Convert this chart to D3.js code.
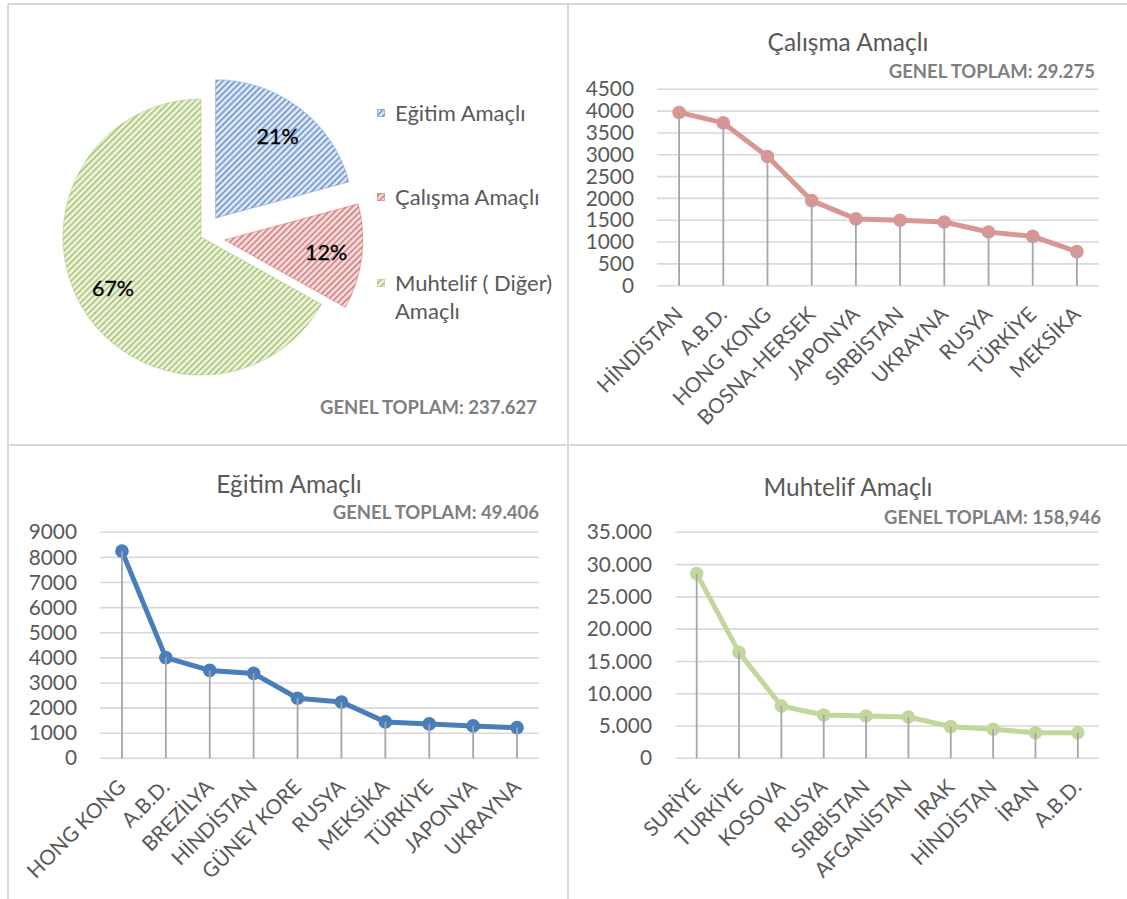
<!DOCTYPE html>
<html>
<head>
<meta charset="utf-8">
<script src="https://cdn.jsdelivr.net/npm/d3@7"></script>
<style>
  body { margin: 0; background: #fff; }
  svg { display: block; font-family: Lato, "Open Sans", sans-serif; }
</style>
</head>
<body>
<svg id="chart" width="1127" height="899"></svg>
<script>
// ---- data ----
const pieCategories = ["Eğitim Amaçlı", "Çalışma Amaçlı", "Muhtelif ( Diğer) Amaçlı"];
const pieLegendLines = [["Eğitim Amaçlı"], ["Çalışma Amaçlı"], ["Muhtelif ( Diğer)", "Amaçlı"]];
const pieValues = [49406, 29275, 158946];
const pieTotalText = "GENEL TOPLAM: 237.627";

const calismaCountries = ["HİNDİSTAN", "A.B.D.", "HONG KONG", "BOSNA-HERSEK", "JAPONYA",
  "SIRBİSTAN", "UKRAYNA", "RUSYA", "TÜRKİYE", "MEKSİKA"];
const calismaValues = [3970, 3730, 2960, 1950, 1530, 1500, 1460, 1230, 1130, 780];
const calismaTicks = [0, 500, 1000, 1500, 2000, 2500, 3000, 3500, 4000, 4500];
const calismaTotalText = "GENEL TOPLAM: 29.275";

const egitimCountries = ["HONG KONG", "A.B.D.", "BREZİLYA", "HİNDİSTAN", "GÜNEY KORE",
  "RUSYA", "MEKSİKA", "TÜRKİYE", "JAPONYA", "UKRAYNA"];
const egitimValues = [8250, 4010, 3500, 3380, 2390, 2240, 1450, 1370, 1290, 1220];
const egitimTicks = [0, 1000, 2000, 3000, 4000, 5000, 6000, 7000, 8000, 9000];
const egitimTotalText = "GENEL TOPLAM: 49.406";

const muhtelifCountries = ["SURİYE", "TURKİYE", "KOSOVA", "RUSYA", "SIRBİSTAN",
  "AFGANİSTAN", "IRAK", "HİNDİSTAN", "İRAN", "A.B.D."];
const muhtelifValues = [28600, 16400, 8100, 6700, 6550, 6400, 4900, 4500, 3950, 3950];
const muhtelifTicks = [0, 5000, 10000, 15000, 20000, 25000, 30000, 35000];
const muhtelifTotalText = "GENEL TOPLAM: 158,946";

// ---- styling ----
const textGray = "#595959";
const totalGray = "#7f7f7f";
const gridGray = "#d9d9d9";
const dropGray = "#a6a6a6";

const svg = d3.select("#chart");
const defs = svg.append("defs");

// hatched fills for the pie slices
const hatch = [
  { id: "hatch-blue",  bg: "#dce6f4", fg: "#6f97d0", edge: "#4f81bd" },
  { id: "hatch-red",   bg: "#f5dbdb", fg: "#d48180", edge: "#c0504d" },
  { id: "hatch-green", bg: "#ebf2de", fg: "#abc675", edge: "#9bbb59" }
];
hatch.forEach(h => {
  const p = defs.append("pattern")
    .attr("id", h.id)
    .attr("patternUnits", "userSpaceOnUse")
    .attr("width", 4.4).attr("height", 4.4)
    .attr("patternTransform", "rotate(45)");
  p.append("rect").attr("width", 4.4).attr("height", 4.4).attr("fill", h.bg);
  p.append("rect").attr("width", 1.6).attr("height", 4.4).attr("fill", h.fg);
});

// ---- panel frame ----
const frame = svg.append("g").attr("stroke", "#d9d9d9").attr("stroke-width", 2);
frame.append("line").attr("x1", 8).attr("x2", 1127).attr("y1", 4).attr("y2", 4);
frame.append("line").attr("x1", 8).attr("x2", 8).attr("y1", 4).attr("y2", 899);
frame.append("line").attr("x1", 568).attr("x2", 568).attr("y1", 4).attr("y2", 899);
frame.append("line").attr("x1", 8).attr("x2", 1127).attr("y1", 445).attr("y2", 445);

// ---- pie ----
(function drawPie() {
  const cx = 201, cy = 237, r = 138;
  const explode = [24, 24, 0];
  const arcs = d3.pie().sort(null).startAngle(0).endAngle(2 * Math.PI)(pieValues);
  const arc = d3.arc().innerRadius(0).outerRadius(r);
  const labelArc = d3.arc().innerRadius(102).outerRadius(102);
  const total = d3.sum(pieValues);

  const g = svg.append("g").attr("transform", `translate(${cx},${cy})`);
  const slices = g.selectAll("g.slice").data(arcs).join("g")
    .attr("class", "slice")
    .attr("transform", (d, i) => {
      const mid = (d.startAngle + d.endAngle) / 2;
      return `translate(${Math.sin(mid) * explode[i]},${-Math.cos(mid) * explode[i]})`;
    });
  slices.append("path")
    .attr("d", arc)
    .attr("fill", (d, i) => `url(#${hatch[i].id})`)
    .attr("stroke", (d, i) => hatch[i].edge)
    .attr("stroke-opacity", 0.35)
    .attr("stroke-width", 1.2);
  slices.append("text")
    .attr("transform", d => `translate(${labelArc.centroid(d)})`)
    .attr("text-anchor", "middle")
    .attr("dy", "0.35em")
    .attr("font-size", 21.5)
    .attr("fill", "#000")
    .attr("stroke", "#000").attr("stroke-width", 0.3)
    .text(d => Math.round(d.value / total * 100) + "%");

  // legend
  const legendY = [113, 197, 283];
  const lg = svg.append("g");
  pieLegendLines.forEach((lines, i) => {
    lg.append("rect")
      .attr("x", 377.5).attr("y", legendY[i] - 3.5)
      .attr("width", 7).attr("height", 7)
      .attr("fill", `url(#${hatch[i].id})`)
      .attr("stroke", hatch[i].edge).attr("stroke-width", 0.8).attr("stroke-opacity", 0.6);
    const t = lg.append("text")
      .attr("x", 395).attr("y", legendY[i])
      .attr("font-size", 22)
      .attr("fill", textGray);
    lines.forEach((ln, j) => {
      t.append("tspan").attr("x", 395).attr("dy", j === 0 ? "0.35em" : 28).text(ln);
    });
  });

  svg.append("text")
    .attr("x", 537).attr("y", 408).attr("dy", "0.35em")
    .attr("text-anchor", "end")
    .attr("font-size", 18.5).attr("font-weight", 700)
    .attr("fill", totalGray)
    .text(pieTotalText);
})();

// ---- line charts with drop lines ----
function drawLineChart(cfg) {
  const x = d3.scaleBand().domain(cfg.countries).range([cfg.x0, cfg.x1]);
  const y = d3.scaleLinear().domain([0, d3.max(cfg.ticks)]).range([cfg.yBase, cfg.yTop]);
  const px = c => x(c) + x.bandwidth() / 2;
  const g = svg.append("g");

  // title + total
  g.append("text")
    .attr("x", cfg.titleX).attr("y", cfg.titleY).attr("dy", "0.35em")
    .attr("text-anchor", "middle")
    .attr("font-size", 24.5).attr("fill", textGray)
    .text(cfg.title);
  g.append("text")
    .attr("x", cfg.totalX).attr("y", cfg.totalY).attr("dy", "0.35em")
    .attr("text-anchor", "end")
    .attr("font-size", 18.5).attr("font-weight", 700).attr("fill", totalGray)
    .text(cfg.totalText);

  // gridlines
  g.append("g").selectAll("line").data(cfg.ticks).join("line")
    .attr("x1", cfg.x0).attr("x2", cfg.x1)
    .attr("y1", d => y(d)).attr("y2", d => y(d))
    .attr("stroke", gridGray).attr("stroke-width", 1.6);

  // y axis labels
  const yAxis = g.append("g")
    .attr("transform", `translate(${cfg.labelX},0)`)
    .call(d3.axisLeft(y).tickValues(cfg.ticks).tickFormat(cfg.format).tickSize(0).tickPadding(0));
  yAxis.select(".domain").remove();
  yAxis.selectAll("text")
    .attr("font-family", "Lato, 'Open Sans', sans-serif")
    .attr("font-size", 20.8).attr("fill", textGray);

  // x axis labels, rotated
  const xAxis = g.append("g")
    .attr("transform", `translate(0,${cfg.yBase})`)
    .call(d3.axisBottom(x).tickSize(0));
  xAxis.select(".domain").remove();
  xAxis.selectAll("text")
    .attr("font-family", "Lato, 'Open Sans', sans-serif")
    .attr("font-size", 20.7).attr("fill", textGray)
    .attr("x", 0).attr("y", 0).attr("dy", null)
    .attr("text-anchor", "end")
    .attr("transform", `translate(${cfg.labelDX},${cfg.labelDY}) rotate(-45)`);

  const pts = cfg.countries.map((c, i) => ({ c, v: cfg.values[i] }));

  // series line + markers
  g.append("path")
    .datum(pts)
    .attr("d", d3.line().x(d => px(d.c)).y(d => y(d.v)))
    .attr("fill", "none")
    .attr("stroke", cfg.color).attr("stroke-width", 5)
    .attr("stroke-linejoin", "round").attr("stroke-linecap", "round");
  g.append("g").selectAll("circle").data(pts).join("circle")
    .attr("cx", d => px(d.c)).attr("cy", d => y(d.v))
    .attr("r", 6.8).attr("fill", cfg.color);

  // drop lines from each point to the category axis
  g.append("g").selectAll("line").data(pts).join("line")
    .attr("x1", d => px(d.c)).attr("x2", d => px(d.c))
    .attr("y1", d => y(d.v)).attr("y2", cfg.yBase)
    .attr("stroke", dropGray).attr("stroke-width", 1.8);
}

const plainFmt = d => String(d);
const dotFmt = d => d === 0 ? "0" : d3.format(",")(d).replace(/,/g, ".");

drawLineChart({
  countries: calismaCountries, values: calismaValues, ticks: calismaTicks, format: plainFmt,
  color: "#d99694", title: "Çalışma Amaçlı", totalText: calismaTotalText,
  x0: 657, x1: 1099, yBase: 285.7, yTop: 89.3,
  titleX: 848, titleY: 42, totalX: 1095, totalY: 72, labelX: 634,
  labelDX: 5, labelDY: 30
});

drawLineChart({
  countries: egitimCountries, values: egitimValues, ticks: egitimTicks, format: plainFmt,
  color: "#4a7ebb", title: "Eğitim Amaçlı", totalText: egitimTotalText,
  x0: 100, x1: 539, yBase: 758.3, yTop: 532.3,
  titleX: 289, titleY: 484, totalX: 539, totalY: 513, labelX: 77,
  labelDX: 5, labelDY: 30
});

drawLineChart({
  countries: muhtelifCountries, values: muhtelifValues, ticks: muhtelifTicks, format: dotFmt,
  color: "#c3d69b", title: "Muhtelif Amaçlı", totalText: muhtelifTotalText,
  x0: 675.5, x1: 1099, yBase: 758.3, yTop: 532.3,
  titleX: 848, titleY: 487, totalX: 1101, totalY: 518, labelX: 652,
  labelDX: 5, labelDY: 30
});
</script>
</body>
</html>
